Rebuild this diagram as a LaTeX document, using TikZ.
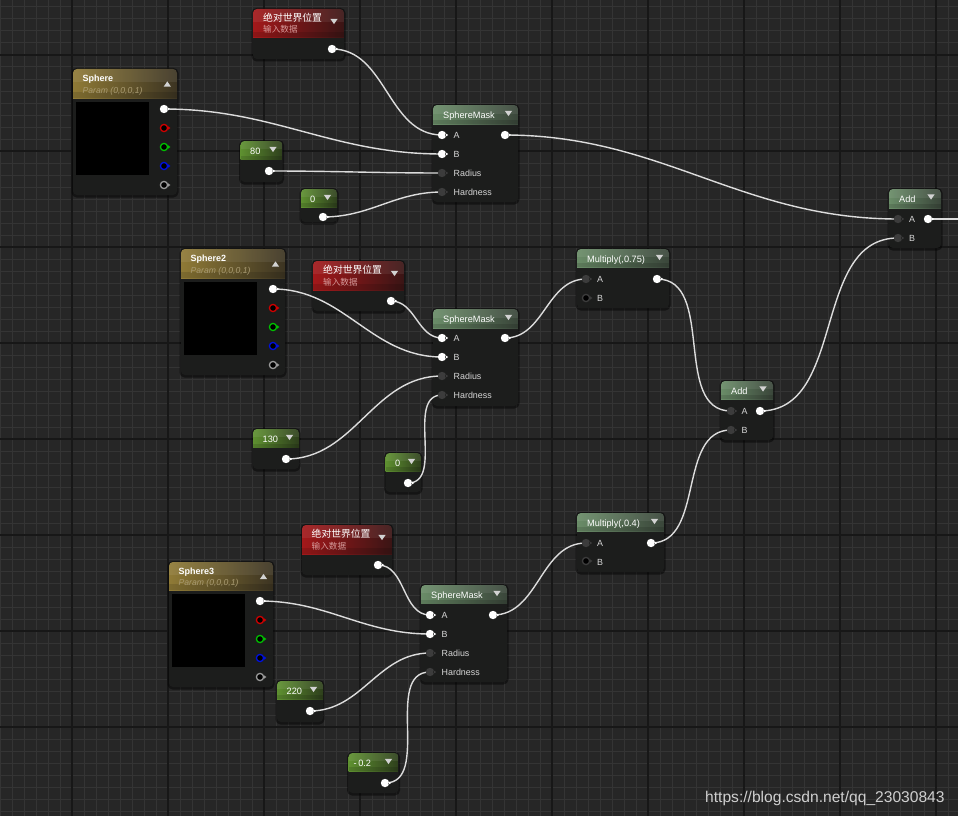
\documentclass[tikz,border=0pt]{standalone}
\usepackage{fontspec}
\setmainfont{Liberation Sans}
\newfontfamily\cjk{Noto Sans CJK SC}
\definecolor{bg}{HTML}{262626}
\definecolor{gminor}{HTML}{343434}
\definecolor{gmajor}{HTML}{171717}
\definecolor{bodyc}{HTML}{1C1D1C}
\definecolor{smL}{HTML}{6A8C68}
\definecolor{smR}{HTML}{3A463A}
\definecolor{cgL}{HTML}{5E9030}
\definecolor{cgR}{HTML}{2E3F1C}
\definecolor{rdL}{HTML}{A3181A}
\definecolor{rdR}{HTML}{3A1515}
\definecolor{gdL}{HTML}{8F7A36}
\definecolor{gdR}{HTML}{3C3422}
\definecolor{wirec}{HTML}{DCDCDC}
\definecolor{pindark}{HTML}{3C3C3C}
\definecolor{lbl}{HTML}{D6D6D6}
\definecolor{paramc}{HTML}{A99B72}
\definecolor{subred}{HTML}{D49A9A}
\definecolor{tric}{HTML}{D2D2D2}
\definecolor{markc}{HTML}{CFCFCF}
\definecolor{ringgrey}{HTML}{9A9A9A}
\definecolor{ringred}{HTML}{D00000}
\definecolor{ringgreen}{HTML}{00C000}
\definecolor{ringblue}{HTML}{0010E0}

\tikzset{
  wire/.style={draw=wirec, line width=1.4pt},
  ttl/.style={anchor=base west, inner sep=0, text=white, font=\fontsize{9.2}{10}\selectfont},
  ttlb/.style={anchor=base west, inner sep=0, text=white, font=\fontsize{9}{10}\selectfont\bfseries},
  sub/.style={anchor=base west, inner sep=0, text=paramc, font=\fontsize{8.6}{10}\selectfont\itshape},
  cjkt/.style={anchor=base west, inner sep=0, text=white, font=\cjk\fontsize{9.8}{11}\selectfont},
  cjks/.style={anchor=base west, inner sep=0, text=subred, font=\cjk\fontsize{8.6}{10}\selectfont},
  lab/.style={anchor=base west, inner sep=0, text=lbl, font=\fontsize{8.9}{10}\selectfont},
}

% box: name, x, y, w, h, header h, left colour, right colour
\newcommand\uebox[8]{%
  \coordinate (#1) at (#2,#3);
  \fill[black,opacity=0.45,rounded corners=5pt] (#2-1.5,#3-1) rectangle (#2+#4+1.5,#3+#5+2.5);
  \fill[bodyc,rounded corners=4pt] (#2,#3) rectangle (#2+#4,#3+#5);
  \begin{scope}
    \clip[rounded corners=4pt] (#2,#3) rectangle (#2+#4,#3+#5);
    \shade[left color=#7,right color=#8] (#2,#3) rectangle (#2+#4,#3+#6);
    \fill[white,opacity=0.07] (#2,#3) rectangle (#2+#4,#3+#6*0.45);
    \fill[black,opacity=0.12] (#2,#3+#6*0.8) rectangle (#2+#4,#3+#6);
  \end{scope}
}
\newcommand\tridown[2]{\fill[tric] (#1-3.6,#2-2.6) -- (#1+3.6,#2-2.6) -- (#1,#2+2.6) -- cycle;}
\newcommand\triup[2]{\fill[tric] (#1-3.6,#2+2.6) -- (#1+3.6,#2+2.6) -- (#1,#2-2.6) -- cycle;}
\newcommand\pinfill[2]{\fill[#2,shift={(#1)}] (0,0) circle (4.2pt) (3,-2) -- (6.2,0) -- (3,2) -- cycle;}
\newcommand\pinring[2]{\draw[#2,line width=1.3pt,fill=black,shift={(#1)}] (0,0) circle (3.6pt);
  \fill[#2,shift={(#1)}] (3.8,-1.9) -- (6.4,0) -- (3.8,1.9) -- cycle;}

\begin{document}
\begin{tikzpicture}[x=1pt,y=-1pt]
\useasboundingbox (0,0) rectangle (958,816);
\fill[bg] (0,0) rectangle (958,816);
% grid
\foreach \i in {0,...,79} \draw[gminor,line width=1pt] (12*\i,0) -- (12*\i,816);
\foreach \j in {0,...,67} \draw[gminor,line width=1pt] (0,7+12*\j) -- (958,7+12*\j);
\foreach \i in {72,168,...,936} \draw[gmajor,line width=1.3pt] (\i,0) -- (\i,816);
\foreach \j in {55,151,...,823} \draw[gmajor,line width=1.3pt] (0,\j) -- (958,\j);

% ===== group 1 =====
\uebox{red1}{253}{9}{91}{50}{28.5}{rdL}{rdR}
\node[cjkt] (red1t) at (263,21.5) {绝对世界位置};
\node[cjks] (red1s) at (263,33) {输入数据};
\tridown{334}{21.5}
\coordinate (red1-out) at (332,49);

\uebox{sph1}{73}{69}{104}{126}{29}{gdL}{gdR}
\node[ttlb] (sph1t) at (82.5,81.5) {Sphere};
\node[sub] (sph1s) at (82.5,93) {Param (0,0,0,1)};
\triup{167.3}{84}
\fill[black] (76,102) rectangle (149,175);
\coordinate (sph1-o) at (164,109);
\coordinate (sph1-r) at (164,128);
\coordinate (sph1-g) at (164,147);
\coordinate (sph1-b) at (164,166);
\coordinate (sph1-a) at (164,185);

\uebox{c80}{240.5}{141}{42}{41}{18.5}{cgL}{cgR}
\node[ttl] (c80t) at (250,154) {80};
\tridown{273}{149.5}
\coordinate (c80-out) at (269,171);

\uebox{c0a}{301}{189}{36}{33}{18}{cgL}{cgR}
\node[ttl] (c0at) at (310,202) {0};
\tridown{327.5}{197.5}
\coordinate (c0a-out) at (323,217);

\uebox{sm1}{433}{105}{85}{97}{19}{smL}{smR}
\node[ttl] (sm1t) at (443,118.5) {SphereMask};
\tridown{508.5}{113.5}
\node[lab] (sm1la) at (453.5,138.3) {A};
\node[lab] (sm1lb) at (453.5,157.3) {B};
\node[lab] (sm1lr) at (453.5,176.3) {Radius};
\node[lab] (sm1lh) at (453.5,195.3) {Hardness};
\coordinate (sm1-a) at (442,135);
\coordinate (sm1-b) at (442,154);
\coordinate (sm1-r) at (442,173);
\coordinate (sm1-h) at (442,192);
\coordinate (sm1-out) at (505,135);

\uebox{addt}{889}{189}{52}{59}{19}{smL}{smR}
\node[ttl] (addtt) at (899,202.5) {Add};
\tridown{931}{197}
\node[lab] (addtla) at (909,222.3) {A};
\node[lab] (addtlb) at (909,241) {B};
\coordinate (addt-a) at (898,219);
\coordinate (addt-b) at (898,238);
\coordinate (addt-out) at (928,219);
\coordinate (edge) at (962,219);

% ===== group 2 =====
\uebox{sph2}{181}{249}{104}{126}{29}{gdL}{gdR}
\node[ttlb] (sph2t) at (190.5,261.5) {Sphere2};
\node[sub] (sph2s) at (190.5,273) {Param (0,0,0,1)};
\triup{275.5}{264}
\fill[black] (184,282) rectangle (257,355);
\coordinate (sph2-o) at (273,289);
\coordinate (sph2-r) at (273,308);
\coordinate (sph2-g) at (273,327);
\coordinate (sph2-b) at (273,346);
\coordinate (sph2-a) at (273,365);

\uebox{red2}{313}{261}{91}{50}{29}{rdL}{rdR}
\node[cjkt] (red2t) at (323,273.5) {绝对世界位置};
\node[cjks] (red2s) at (323,285) {输入数据};
\tridown{394.5}{273.5}
\coordinate (red2-out) at (391,301);

\uebox{sm2}{433}{309}{85}{97}{19}{smL}{smR}
\node[ttl] (sm2t) at (443,322.5) {SphereMask};
\tridown{508.5}{317.5}
\node[lab] (sm2la) at (453.5,341.3) {A};
\node[lab] (sm2lb) at (453.5,360.3) {B};
\node[lab] (sm2lr) at (453.5,379.3) {Radius};
\node[lab] (sm2lh) at (453.5,398.3) {Hardness};
\coordinate (sm2-a) at (442,338);
\coordinate (sm2-b) at (442,357);
\coordinate (sm2-r) at (442,376);
\coordinate (sm2-h) at (442,395);
\coordinate (sm2-out) at (505,338);

\uebox{mul1}{577}{249}{92}{59}{18}{smL}{smR}
\node[ttl] (mul1t) at (587,262.5) {Multiply(,0.75)};
\tridown{659.5}{257.5}
\node[lab] (mul1la) at (597,282.3) {A};
\node[lab] (mul1lb) at (597,301) {B};
\coordinate (mul1-a) at (586,279);
\coordinate (mul1-b) at (586,298);
\coordinate (mul1-out) at (657,279);

\uebox{c130}{253}{429}{46}{40}{18.5}{cgL}{cgR}
\node[ttl] (c130t) at (262.5,442) {130};
\tridown{289.5}{437.5}
\coordinate (c130-out) at (286,459);

\uebox{c0b}{385.5}{453}{35.5}{39}{18}{cgL}{cgR}
\node[ttl] (c0bt) at (395,466) {0};
\tridown{411.5}{461.5}
\coordinate (c0b-out) at (408,483);

\uebox{addl}{721}{381}{52}{59}{18}{smL}{smR}
\node[ttl] (addlt) at (731,394.5) {Add};
\tridown{763}{389}
\node[lab] (addlla) at (741.5,414.3) {A};
\node[lab] (addllb) at (741.5,433) {B};
\coordinate (addl-a) at (731,411);
\coordinate (addl-b) at (731,430);
\coordinate (addl-out) at (760,411);

% ===== group 3 =====
\uebox{mul2}{577}{513}{87}{59}{18}{smL}{smR}
\node[ttl] (mul2t) at (587,526.5) {Multiply(,0.4)};
\tridown{654.5}{521.5}
\node[lab] (mul2la) at (597,546.3) {A};
\node[lab] (mul2lb) at (597,565) {B};
\coordinate (mul2-a) at (586,543);
\coordinate (mul2-b) at (586,561);
\coordinate (mul2-out) at (651,543);

\uebox{red3}{302}{525}{90}{50}{29}{rdL}{rdR}
\node[cjkt] (red3t) at (311.5,537.5) {绝对世界位置};
\node[cjks] (red3s) at (311.5,549) {输入数据};
\tridown{382}{537.5}
\coordinate (red3-out) at (378,565);

\uebox{sph3}{169}{562}{104}{125}{28}{gdL}{gdR}
\node[ttlb] (sph3t) at (178.5,574) {Sphere3};
\node[sub] (sph3s) at (178.5,585.5) {Param (0,0,0,1)};
\triup{263.5}{576.5}
\fill[black] (172,594) rectangle (245,667);
\coordinate (sph3-o) at (260,601);
\coordinate (sph3-r) at (260,620);
\coordinate (sph3-g) at (260,639);
\coordinate (sph3-b) at (260,658);
\coordinate (sph3-a) at (260,677);

\uebox{sm3}{421}{585}{86}{97}{18.5}{smL}{smR}
\node[ttl] (sm3t) at (431,598.5) {SphereMask};
\tridown{497}{593.5}
\node[lab] (sm3la) at (441.5,618.3) {A};
\node[lab] (sm3lb) at (441.5,637.3) {B};
\node[lab] (sm3lr) at (441.5,656.3) {Radius};
\node[lab] (sm3lh) at (441.5,675.3) {Hardness};
\coordinate (sm3-a) at (430,615);
\coordinate (sm3-b) at (430,634);
\coordinate (sm3-r) at (430,653);
\coordinate (sm3-h) at (430,672);
\coordinate (sm3-out) at (493,615);

\uebox{c220}{277}{681}{46}{41}{18}{cgL}{cgR}
\node[ttl] (c220t) at (286.5,694) {220};
\tridown{313.5}{689.5}
\coordinate (c220-out) at (310,711);

\uebox{cm02}{348.5}{753}{50}{40}{18}{cgL}{cgR}
\node[ttl] (cm02t) at (353.5,766) {-\kern1.5pt0.2};
\tridown{388.5}{761.5}
\coordinate (cm02-out) at (385,783);

% ===== wires =====
\draw[wire] (red1-out) to[out=0,in=180] (sm1-a);
\draw[wire] (sph1-o) to[out=0,in=180] (sm1-b);
\draw[wire] (c80-out) to[out=0,in=180] (sm1-r);
\draw[wire] (c0a-out) to[out=0,in=180] (sm1-h);
\draw[wire] (sm1-out) to[out=0,in=180] (addt-a);
\draw[wire] (addt-out) -- (edge);
\draw[wire] (red2-out) to[out=0,in=180] (sm2-a);
\draw[wire] (sph2-o) to[out=0,in=180] (sm2-b);
\draw[wire] (c130-out) to[out=0,in=180] (sm2-r);
\draw[wire] (c0b-out) to[out=0,in=180] (sm2-h);
\draw[wire] (sm2-out) to[out=0,in=180] (mul1-a);
\draw[wire] (mul1-out) to[out=0,in=180] (addl-a);
\draw[wire] (addl-out) to[out=0,in=180] (addt-b);
\draw[wire] (red3-out) to[out=0,in=180] (sm3-a);
\draw[wire] (sph3-o) to[out=0,in=180] (sm3-b);
\draw[wire] (c220-out) to[out=0,in=180] (sm3-r);
\draw[wire] (cm02-out) to[out=0,in=180] (sm3-h);
\draw[wire] (sm3-out) to[out=0,in=180] (mul2-a);
\draw[wire] (mul2-out) to[out=0,in=180] (addl-b);

% ===== pins =====
\pinfill{red1-out}{white}
\pinfill{red2-out}{white}
\pinfill{red3-out}{white}
\pinfill{c80-out}{white}
\pinfill{c0a-out}{white}
\pinfill{c130-out}{white}
\pinfill{c0b-out}{white}
\pinfill{c220-out}{white}
\pinfill{cm02-out}{white}
\foreach \s in {sph1,sph2,sph3}{
  \pinfill{\s-o}{white}
  \pinring{\s-r}{ringred}
  \pinring{\s-g}{ringgreen}
  \pinring{\s-b}{ringblue}
  \pinring{\s-a}{ringgrey}
}
\foreach \s in {sm1,sm2,sm3}{
  \pinfill{\s-a}{white}
  \pinfill{\s-b}{white}
  \pinfill{\s-r}{pindark}
  \pinfill{\s-h}{pindark}
  \pinfill{\s-out}{white}
}
\foreach \s in {mul1,mul2}{
  \pinfill{\s-a}{pindark}
  \pinring{\s-b}{pindark}
  \pinfill{\s-out}{white}
}
\foreach \s in {addt,addl}{
  \pinfill{\s-a}{pindark}
  \pinfill{\s-b}{pindark}
  \pinfill{\s-out}{white}
}

% watermark
\node[anchor=base west, inner sep=0, text=markc, font=\fontsize{15.6}{17}\selectfont] (mark) at (705,802.5) {https://blog.csdn.net/qq\_23030843};
\end{tikzpicture}
\end{document}
